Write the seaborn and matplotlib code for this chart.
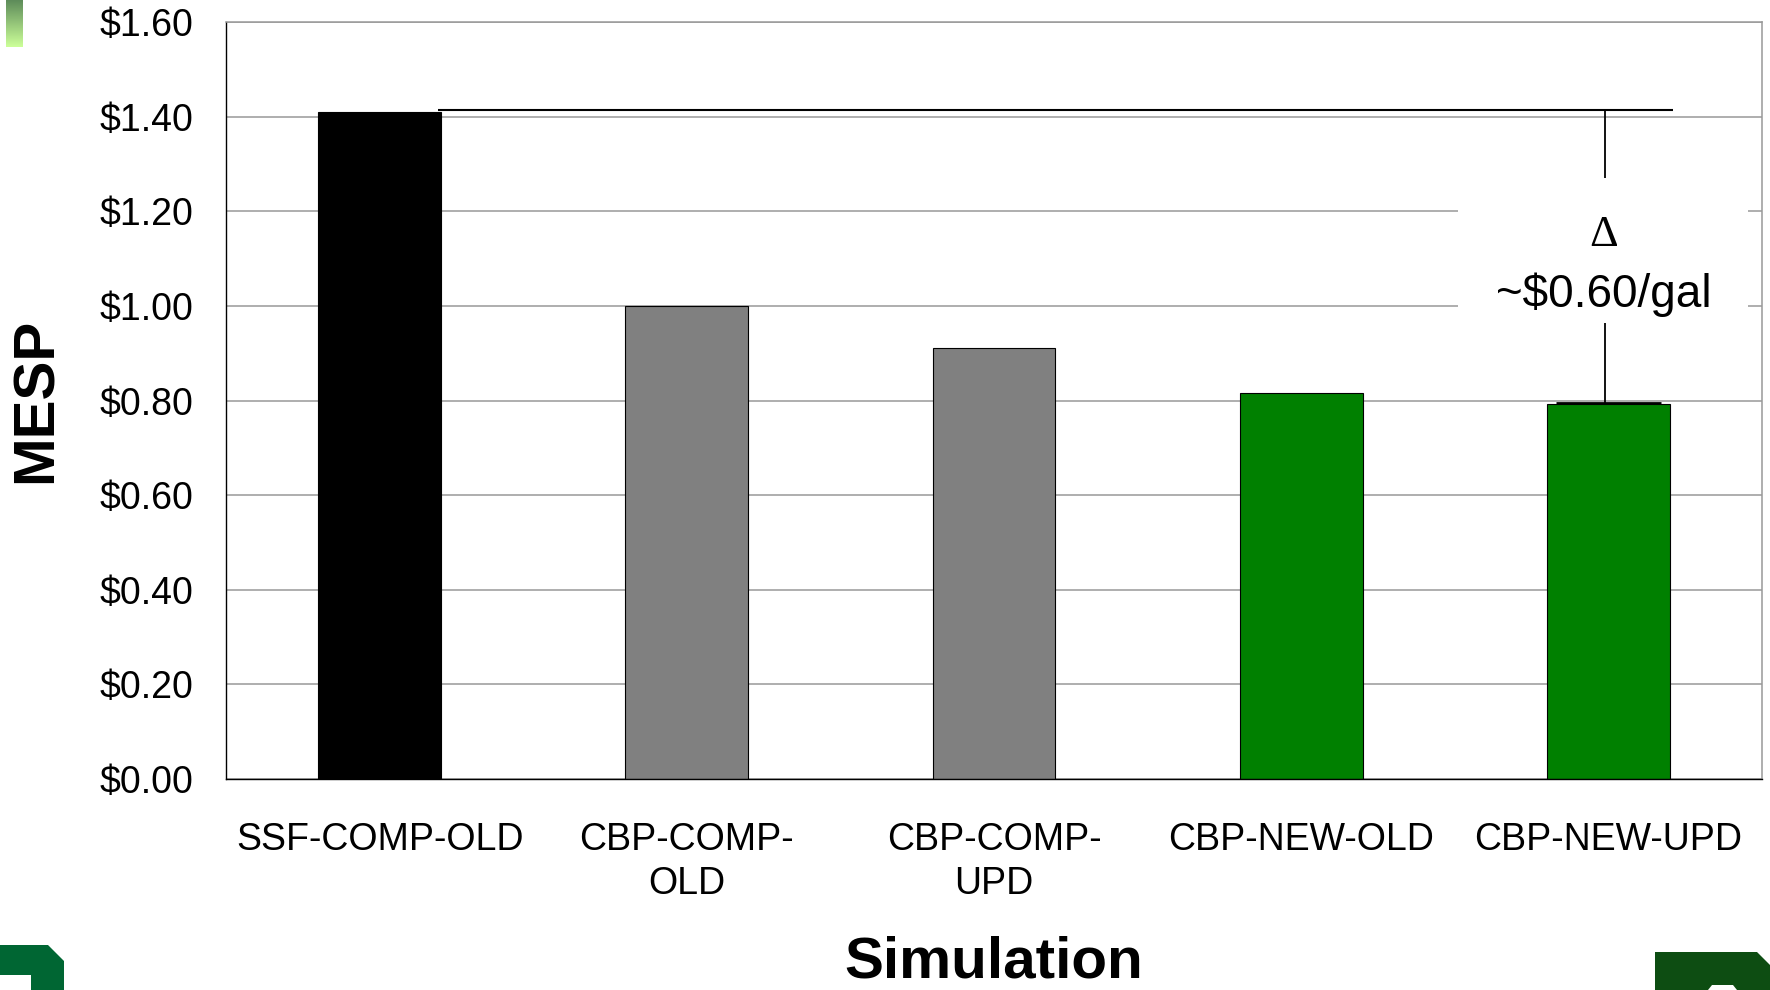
import numpy as np
import pandas as pd
import matplotlib
matplotlib.use("Agg")
import matplotlib.pyplot as plt
from matplotlib.patches import Polygon, Rectangle
from matplotlib.colors import LinearSegmentedColormap
import seaborn as sns

# Chart data
simulations = ["SSF-COMP-OLD", "CBP-COMP-OLD", "CBP-COMP-UPD", "CBP-NEW-OLD", "CBP-NEW-UPD"]
tick_labels = ["SSF-COMP-OLD", "CBP-COMP-\nOLD", "CBP-COMP-\nUPD", "CBP-NEW-OLD", "CBP-NEW-UPD"]
mesp = [1.411, 1.000, 0.912, 0.817, 0.793]
bar_colors = ["#000000", "#808080", "#808080", "#008000", "#008000"]
y_ticks = [0.0, 0.2, 0.4, 0.6, 0.8, 1.0, 1.2, 1.4, 1.6]
delta_text = "~$0.60/gal"

df = pd.DataFrame({"Simulation": simulations, "MESP": mesp})

sns.set_style("white")
plt.rcParams["font.family"] = ["Liberation Sans", "DejaVu Sans"]
plt.rcParams["text.color"] = "black"
plt.rcParams["axes.labelcolor"] = "black"

W, H = 1770, 990
fig = plt.figure(figsize=(W / 100, H / 100), dpi=100)
fig.patch.set_facecolor("white")

# axes placed in pixel terms of the reference
ax_l, ax_r, ax_t, ax_b = 226, 1762, 22.3, 779
ax = fig.add_axes([ax_l / W, 1 - ax_b / H, (ax_r - ax_l) / W, (ax_b - ax_t) / H])

sns.barplot(data=df, x="Simulation", y="MESP", hue="Simulation", palette=bar_colors,
            width=0.4, edgecolor="black", linewidth=0.8, legend=False, saturation=1, ax=ax)

ax.set_xlim(-0.5, len(simulations) - 0.5)
ax.set_ylim(0, 1.6)
ax.set_yticks(y_ticks)
ax.set_yticklabels([f"${v:.2f}" for v in y_ticks])
ax.yaxis.grid(True, color="#999999", linewidth=1.1)
ax.set_axisbelow(True)

# category labels without ticks, boundary ticks as minor ticks
ax.set_xticks(range(len(simulations)))
ax.set_xticklabels(tick_labels, linespacing=1.3)
ax.set_xticks(np.arange(-0.5, len(simulations)), minor=True)
ax.tick_params(axis="x", which="major", length=0, pad=31, labelsize=27, labelcolor="black")
ax.tick_params(axis="x", which="minor", length=6.5, width=1, color="black", direction="out")
ax.tick_params(axis="y", length=6.5, width=1, color="black", direction="out", pad=17,
               labelsize=27, labelcolor="black")

for side in ["left", "bottom"]:
    ax.spines[side].set_color("black")
    ax.spines[side].set_linewidth(1)
for side in ["top", "right"]:
    ax.spines[side].set_color("#999999")
    ax.spines[side].set_linewidth(1.1)

ax.set_xlabel("Simulation", fontsize=42, fontweight="bold", va="top", color="black")
ax.xaxis.set_label_coords(0.5, -0.207)
ax.set_ylabel("MESP", fontsize=42, fontweight="bold", color="black")
ax.yaxis.set_label_coords(-0.1055, 0.5)

# difference annotation between the first and last bar
top_val = mesp[0] + 0.004
low_val = mesp[-1]
last = len(simulations) - 1
ax.hlines(top_val, 0.19, last + 0.21, color="black", linewidth=1.5, zorder=3)
ax.vlines(last - 0.01, low_val, top_val, color="black", linewidth=1.3, zorder=3)
ax.hlines(low_val + 0.003, last - 0.17, last + 0.17, color="black", linewidth=2, zorder=3)
ax.add_patch(Rectangle((3.51, 0.964), 0.945, 0.307, facecolor="white", edgecolor="none",
                       zorder=4))
ax.text(last - 0.015, 1.127, "\u0394", ha="center", va="baseline", fontsize=32,
        family=["Liberation Serif", "DejaVu Serif"], color="black", zorder=5)
ax.text(last - 0.015, 0.998, delta_text, ha="center", va="baseline", fontsize=33,
        color="black", zorder=5)

# slide decorations
grad_ax = fig.add_axes([6 / W, 1 - 47 / H, 17 / W, 47 / H])
cmap = LinearSegmentedColormap.from_list("g", ["#5e8c5a", "#ccff99"])
grad_ax.imshow(np.linspace(0, 1, 64).reshape(-1, 1), aspect="auto", cmap=cmap)
grad_ax.axis("off")


def px(points):
    return [(x / W, 1 - y / H) for x, y in points]


fig.patches.append(Polygon(px([(0, 945), (48, 945), (64, 961), (64, 990), (31, 990),
                               (31, 975), (0, 975)]), closed=True, facecolor="#006633",
                           edgecolor="none", transform=fig.transFigure))
fig.patches.append(Polygon(px([(1655, 952), (1757, 952), (1770, 965), (1770, 990),
                               (1737, 990), (1733, 985), (1712, 985), (1708, 990),
                               (1655, 990)]), closed=True, facecolor="#0d4d12",
                           edgecolor="none", transform=fig.transFigure))

fig.savefig("out.png", dpi=100, facecolor="white")
